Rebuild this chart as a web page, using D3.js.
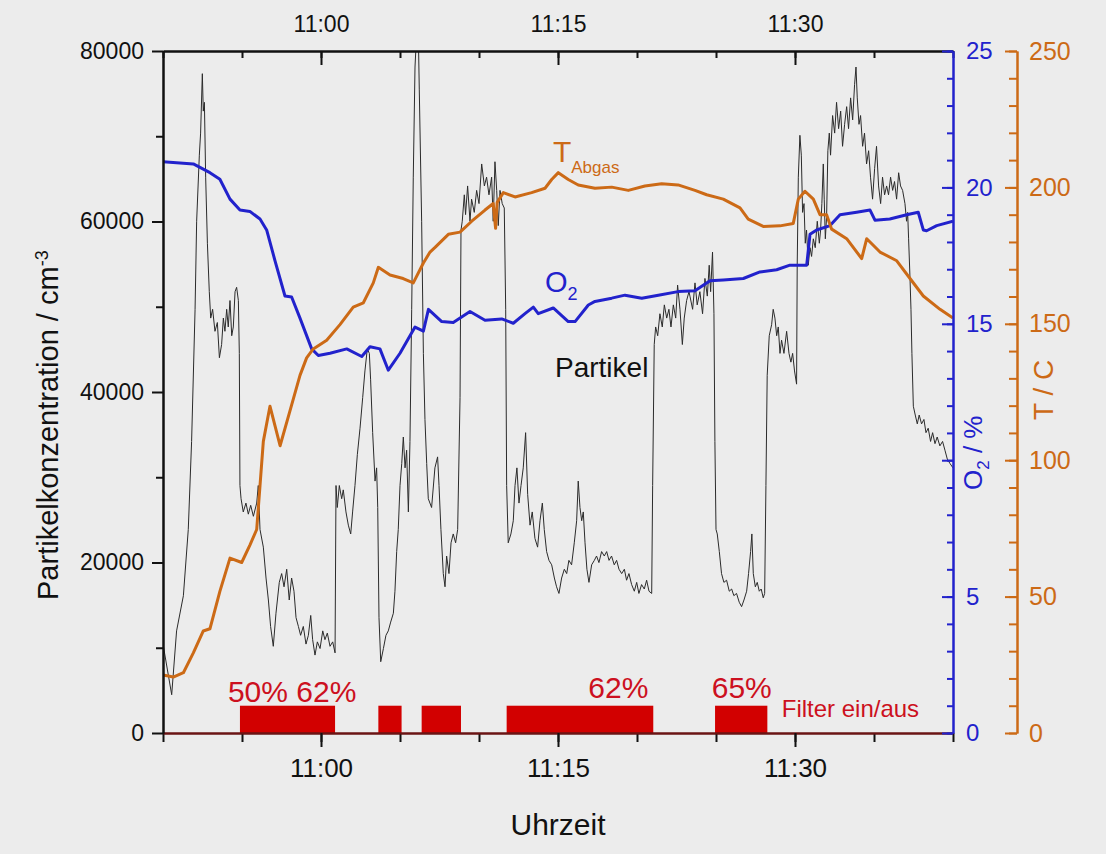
<!DOCTYPE html>
<html>
<head>
<meta charset="utf-8">
<script src="https://cdn.jsdelivr.net/npm/d3@7"></script>
<style>
  body { margin: 0; background: #ececec; }
  svg { display: block; font-family: "Liberation Sans", Arial, sans-serif; }
</style>
</head>
<body>
<div id="chart"></div>
<script>
// minutes after 10:50, value
var partikel = [
  [0,10430],[0.55,4490],[0.86,11980],[1.29,16100],[1.6,23870],[1.81,34200],[2.03,49700],[2.13,60030],
  [2.3,67780],[2.38,70370],[2.49,77340],[2.55,72950],[2.62,73980],[2.7,65200],[2.81,57450],[2.93,51770],
  [3.02,48670],[3.14,49700],[3.29,47120],[3.44,48150],[3.57,44020],[3.71,45570],[3.82,48670],[3.92,47120],
  [4.03,49700],[4.13,47630],[4.24,50730],[4.35,46600],[4.45,47630],[4.56,51770],[4.66,52280],[4.77,50730],
  [4.83,44530],[4.87,29030],[4.94,27480],[5.08,25930],[5.25,26970],[5.4,25670],[5.55,26710],[5.72,25420],
  [5.93,26970],[6.03,29030],[6.14,23870],[6.35,21800],[6.52,18180],[6.67,15600],[6.81,12500],[6.98,10170],
  [7.15,14050],[7.36,17670],[7.51,18700],[7.66,17150],[7.83,19210],[7.99,15600],[8.14,18180],[8.29,16630],
  [8.42,13530],[8.57,12500],[8.71,11460],[8.88,12500],[9.05,10430],[9.2,11460],[9.35,13790],[9.47,10950],
  [9.62,9140],[9.77,10690],[9.94,9910],[10.11,11980],[10.25,10950],[10.4,11720],[10.57,10170],[10.74,10690],
  [10.89,9400],[10.95,29030],[11.03,26450],[11.16,29030],[11.31,27480],[11.41,28520],[11.58,25930],[11.73,24380],
  [11.88,23350],[12,25930],[12.15,29030],[12.3,32650],[12.47,35750],[12.64,39370],[12.78,42470],[12.93,45050],
  [13.06,44530],[13.14,41430],[13.27,35230],[13.42,29550],[13.52,31100],[13.59,26450],[13.67,13530],[13.78,8360],
  [13.95,9910],[14.11,11460],[14.26,11980],[14.41,13010],[14.58,14050],[14.68,16630],[14.79,21280],[14.89,23870],
  [15,29030],[15.11,31610],[15.21,34720],[15.32,31100],[15.42,33170],[15.53,25930],[15.63,34200],[15.74,49700],
  [15.84,65200],[15.95,78120],[16.05,82000],[16.16,82000],[16.22,75530],[16.37,60030],[16.48,44530],[16.58,36780],
  [16.69,31610],[16.79,27480],[17,26450],[17.21,31100],[17.38,32390],[17.47,29030],[17.59,23870],[17.74,18700],
  [17.85,17150],[17.95,20760],[18.1,18700],[18.23,22310],[18.37,23350],[18.52,22310],[18.65,23870],[18.8,39370],
  [18.86,58990],[18.94,60030],[19.07,63130],[19.15,60810],[19.28,64170],[19.43,60030],[19.53,62620],[19.7,61070],
  [19.85,63650],[20,62100],[20.17,66750],[20.34,64170],[20.48,65200],[20.63,63130],[20.8,65200],[20.9,60030],
  [21.01,67010],[21.12,63650],[21.22,59520],[21.33,63650],[21.47,62100],[21.6,61580],[21.69,49700],[21.75,29030],
  [21.85,22310],[22.02,23350],[22.17,24900],[22.28,29030],[22.4,31100],[22.53,26970],[22.66,29030],[22.8,31100],
  [22.95,35230],[23.08,27990],[23.23,24380],[23.37,25930],[23.54,22830],[23.71,21800],[23.86,24900],[24.01,26970],
  [24.13,23870],[24.28,21280],[24.43,20250],[24.6,19730],[24.77,18180],[24.91,17150],[25.06,16370],[25.23,18180],
  [25.4,19210],[25.55,18700],[25.69,20250],[25.86,19730],[26.03,22310],[26.18,24900],[26.28,29550],[26.39,26450],
  [26.5,24900],[26.6,25930],[26.71,22310],[26.83,19210],[26.96,17670],[27.13,19730],[27.3,20250],[27.44,20760],
  [27.59,19990],[27.76,21280],[27.93,20760],[28.08,21280],[28.23,20250],[28.39,20760],[28.56,19730],[28.71,20250],
  [28.86,19210],[29.03,18700],[29.2,19210],[29.34,17920],[29.49,18700],[29.66,17410],[29.83,16630],[29.98,17670],
  [30.12,16370],[30.29,17410],[30.46,16890],[30.61,17920],[30.76,16630],[30.93,16370],[30.99,29030],[31.09,45570],
  [31.18,47630],[31.31,46600],[31.45,49180],[31.6,47630],[31.73,50220],[31.88,48670],[32.02,49700],[32.15,47630],
  [32.3,50220],[32.45,48670],[32.57,52540],[32.72,49700],[32.87,45570],[32.99,48670],[33.14,50730],[33.29,51770],
  [33.35,51250],[33.52,49700],[33.67,52800],[33.81,50220],[33.98,51770],[34.15,49180],[34.3,53320],[34.45,51250],
  [34.57,54870],[34.66,51770],[34.78,56420],[34.87,49180],[34.93,34200],[35,23870],[35.08,23350],[35.21,21280],
  [35.35,18700],[35.5,17670],[35.67,17920],[35.84,16630],[35.99,16890],[36.13,16110],[36.3,16370],[36.47,15340],
  [36.62,14820],[36.77,15600],[36.94,16630],[37.06,18700],[37.19,21280],[37.27,23350],[37.36,18700],[37.49,17150],
  [37.61,17670],[37.74,16630],[37.86,16890],[37.99,15860],[38.08,16370],[38.16,29030],[38.24,41950],[38.37,46600],
  [38.52,47890],[38.62,49700],[38.73,48670],[38.84,46600],[38.94,47630],[39.05,44530],[39.15,46080],[39.3,44530],
  [39.47,47120],[39.62,44530],[39.74,43500],[39.85,44530],[39.97,42470],[40.1,40920],[40.14,54870],[40.21,65200],
  [40.31,70110],[40.4,67780],[40.48,61070],[40.57,62100],[40.65,57450],[40.73,59000],[40.84,54870],[40.95,56930],
  [41.05,55900],[41.16,57970],[41.28,56930],[41.41,60030],[41.54,57450],[41.62,59000],[41.7,62100],[41.79,66750],
  [41.85,62620],[41.92,57970],[42,60550],[42.08,68300],[42.17,70370],[42.25,67780],[42.38,72430],[42.51,70370],
  [42.63,73980],[42.76,70890],[42.89,72950],[43.01,68820],[43.14,71400],[43.27,73470],[43.39,70890],[43.52,74500],
  [43.65,71920],[43.77,76050],[43.86,78120],[43.94,74500],[44.05,71400],[44.15,72430],[44.28,68820],[44.4,70370],
  [44.53,66750],[44.66,68300],[44.78,65200],[44.91,62620],[45.04,66230],[45.16,68820],[45.29,64170],[45.42,62100],
  [45.54,65200],[45.67,63130],[45.8,64170],[45.92,63130],[46.05,65200],[46.18,63650],[46.3,64690],[46.43,62620],
  [46.56,65720],[46.68,64170],[46.81,63650],[46.96,62100],[47.06,60030],[47.13,61070],[47.19,57970],[47.27,53830],
  [47.34,49700],[47.4,44530],[47.49,38330],[47.61,37300],[47.74,36260],[47.86,37300],[48.01,36260],[48.16,36780],
  [48.29,35230],[48.43,35750],[48.58,34200],[48.71,35230],[48.86,33940],[49,34720],[49.17,33680],[49.34,34200],
  [49.49,33170],[49.64,32130],[49.81,31610],[50,31100]
];

var sauerstoff = [
  [0,20.94],[1.92,20.86],[2.97,20.54],[3.6,20.3],[4.24,19.57],[4.87,19.17],[5.5,19.12],[6.14,18.84],
  [6.56,18.44],[7.09,17.31],[7.72,16.02],[8.14,15.98],[8.67,15.21],[9.41,14.08],[9.83,13.84],[10.57,13.92],
  [11.63,14.08],[12.58,13.8],[13.1,14.16],[13.73,14.08],[14.26,13.3],[15,13.92],[15.95,14.88],[16.48,14.73],
  [16.8,15.53],[17.64,15.08],[18.37,15.05],[19.43,15.45],[20.38,15.13],[21.44,15.18],[22.17,15.02],[22.91,15.37],
  [23.44,15.61],[23.75,15.37],[24.7,15.58],[25.65,15.08],[26.08,15.08],[26.92,15.69],[27.34,15.82],[28.4,15.94],
  [29.24,16.05],[30.3,15.94],[31.35,16.05],[32.6,16.18],[33.67,16.21],[34.62,16.58],[35.46,16.61],[36.73,16.66],
  [37.78,16.9],[38.84,16.98],[39.68,17.15],[40.74,17.15],[40.95,18.28],[41.37,18.44],[42.22,18.6],[42.85,19.0],
  [43.9,19.09],[44.75,19.17],[45.06,18.8],[46,18.84],[47.07,19.0],[47.8,19.09],[48.12,18.44],[48.33,18.41],
  [48.97,18.6],[50,18.76]
];

var abgasTemp = [
  [0,21.3],[0.65,20.5],[1.29,22.1],[1.92,29.4],[2.55,37.4],[2.97,38.2],[3.6,51.9],[4.24,64.1],
  [4.98,62.5],[5.5,68.9],[5.93,74.6],[6.14,90.7],[6.35,106.9],[6.77,119.8],[7.41,105.3],[8.04,118.2],
  [8.67,131.1],[9.09,137.5],[9.51,140.8],[10.36,144],[11.2,149.7],[12.04,156.1],[12.68,157.7],[13.31,165],
  [13.63,170.7],[14.37,167.9],[15.2,166.6],[15.84,165],[16.48,172.3],[16.9,176.3],[17.22,178],[18.06,182.8],
  [18.8,183.6],[19.54,187.6],[20.38,191.7],[20.9,194.1],[21.05,185],[21.15,194.5],[21.54,198.1],[22.28,196.5],
  [23.33,198.1],[24.18,199.7],[24.6,202.9],[25.02,205.4],[25.65,202.9],[26.28,200.9],[27.34,199.7],[28.4,200.1],
  [29.45,198.9],[30.5,200.5],[31.56,201.3],[32.6,200.9],[33.67,198.9],[34.41,197.3],[35.46,195.7],[36.52,192.5],
  [37.04,188.4],[37.99,185.7],[39.05,185.9],[39.89,186.8],[40.21,195.7],[40.63,198.6],[41.16,195.7],[41.58,190],
  [42,190],[42.32,184.7],[43.27,181.2],[44.22,173.9],[44.54,181.2],[45.38,176.3],[46.44,173.1],[47.28,166.6],
  [48.12,160.2],[49.18,155.3],[50,152.1]
];

// Filter ein: start / end (minutes after 10:50)
var filterStart = [4.87, 13.63, 16.37, 21.75, 34.94];
var filterEnd   = [10.89, 15.1, 18.86, 31.03, 38.25];
var filterLevel = 3200;

var filterLabels = [
  {text: "50% 62%", t: 4.11, v: 3670},
  {text: "62%", t: 26.92, v: 4100},
  {text: "65%", t: 34.73, v: 4100}
];

var svgWidth = 1106, svgHeight = 854;
var margin = {top: 51, right: 153, bottom: 121, left: 163},
    width  = svgWidth - margin.left - margin.right,
    height = svgHeight - margin.top - margin.bottom;

var blue = "#2222cc", orange = "#cc6a16", red = "#d20000";

var svg = d3.select("#chart").append("svg")
    .attr("width", svgWidth)
    .attr("height", svgHeight);

svg.append("rect").attr("width", svgWidth).attr("height", svgHeight).attr("fill", "#ececec");

var g = svg.append("g").attr("transform", "translate(" + margin.left + "," + margin.top + ")");

var t0 = new Date(2010, 0, 1, 10, 50);
function toDate(m) { return new Date(t0.getTime() + m * 60000); }

var xScale = d3.scaleTime().domain([toDate(0), toDate(50)]).range([0, width]);
var yP = d3.scaleLinear().domain([0, 80000]).range([height, 0]);
var yO = d3.scaleLinear().domain([0, 25]).range([height, 0]);
var yT = d3.scaleLinear().domain([0, 250]).range([height, 0]);

var fmt = d3.timeFormat("%H:%M");
var minorX = xScale.ticks(d3.timeMinute.every(5));
var majorX = xScale.ticks(d3.timeMinute.every(15));

g.append("defs").append("clipPath").attr("id", "clip")
  .append("rect").attr("width", width).attr("height", height);

// filter bars
g.append("g").selectAll("rect")
  .data(filterStart)
  .enter().append("rect")
  .attr("x", function(d) { return xScale(toDate(d)); })
  .attr("width", function(d, i) { return xScale(toDate(filterEnd[i])) - xScale(toDate(d)); })
  .attr("y", yP(filterLevel))
  .attr("height", yP(0) - yP(filterLevel))
  .attr("fill", red);

// lines
var plot = g.append("g").attr("clip-path", "url(#clip)");

plot.append("path")
  .datum(partikel)
  .attr("d", d3.line().x(function(d) { return xScale(toDate(d[0])); }).y(function(d) { return yP(d[1]); }))
  .attr("fill", "none").attr("stroke", "#2b2b2b").attr("stroke-width", 1);

plot.append("path")
  .datum(sauerstoff)
  .attr("d", d3.line().x(function(d) { return xScale(toDate(d[0])); }).y(function(d) { return yO(d[1]); }))
  .attr("fill", "none").attr("stroke", blue).attr("stroke-width", 3).attr("stroke-linejoin", "round");

plot.append("path")
  .datum(abgasTemp)
  .attr("d", d3.line().x(function(d) { return xScale(toDate(d[0])); }).y(function(d) { return yT(d[1]); }))
  .attr("fill", "none").attr("stroke", orange).attr("stroke-width", 3).attr("stroke-linejoin", "round");

// axes
function styleAxis(sel, color, size) {
  sel.selectAll("path").attr("stroke", color).attr("stroke-width", 2);
  sel.selectAll("line").attr("stroke", color).attr("stroke-width", 2);
  sel.selectAll("text").attr("fill", color).style("font-size", size + "px")
     .style("font-family", '"Liberation Sans", Arial, sans-serif');
}

// bottom
var xb1 = g.append("g").attr("transform", "translate(0," + height + ")")
  .call(d3.axisBottom(xScale).tickValues(minorX).tickSize(9).tickSizeOuter(0).tickFormat(""));
styleAxis(xb1, "#111", 26);
var xb2 = g.append("g").attr("transform", "translate(0," + height + ")")
  .call(d3.axisBottom(xScale).tickValues(majorX).tickSize(14).tickPadding(12).tickSizeOuter(0).tickFormat(fmt));
styleAxis(xb2, "#111", 26);
xb1.select(".domain").attr("stroke", "#6b1414");
xb2.select(".domain").attr("stroke", "#6b1414");

// top
var xt1 = g.append("g")
  .call(d3.axisTop(xScale).tickValues(minorX).tickSizeInner(-7).tickSizeOuter(0).tickFormat(""));
styleAxis(xt1, "#111", 23);
var xt2 = g.append("g")
  .call(d3.axisTop(xScale).tickValues(majorX).tickSizeInner(-14).tickPadding(19).tickSizeOuter(0).tickFormat(fmt));
styleAxis(xt2, "#111", 23);

// left
var yl1 = g.append("g")
  .call(d3.axisLeft(yP).tickValues([10000, 30000, 50000, 70000]).tickSize(7).tickSizeOuter(0).tickFormat(""));
styleAxis(yl1, "#111", 23);
var yl2 = g.append("g")
  .call(d3.axisLeft(yP).tickValues([0, 20000, 40000, 60000, 80000]).tickSize(11).tickPadding(8).tickSizeOuter(0).tickFormat(d3.format("d")));
styleAxis(yl2, "#111", 23);

// right O2 (label 10 is left out, the axis title sits there)
var yr1 = g.append("g").attr("transform", "translate(" + width + ",0)")
  .call(d3.axisRight(yO).tickValues(d3.range(0, 26, 1)).tickSizeInner(-6).tickSizeOuter(0).tickFormat(""));
styleAxis(yr1, blue, 24);
var yr2 = g.append("g").attr("transform", "translate(" + width + ",0)")
  .call(d3.axisRight(yO).tickValues([0, 5, 10, 15, 20, 25]).tickSizeInner(-11).tickPadding(13).tickSizeOuter(0)
    .tickFormat(function(d) { return d === 10 ? "" : d; }));
styleAxis(yr2, blue, 24);

// right T
var tAxisX = 854;
var yt1 = g.append("g").attr("transform", "translate(" + tAxisX + ",0)")
  .call(d3.axisRight(yT).tickValues(d3.range(0, 251, 10)).tickSizeInner(-8).tickSizeOuter(0).tickFormat(""));
styleAxis(yt1, orange, 25);
var yt2 = g.append("g").attr("transform", "translate(" + tAxisX + ",0)")
  .call(d3.axisRight(yT).tickValues([0, 50, 100, 150, 200, 250]).tickSizeInner(-12).tickPadding(12).tickSizeOuter(0));
styleAxis(yt2, orange, 25);

// axis titles
var yTitle = svg.append("text")
  .attr("transform", "translate(58,600) rotate(-90)")
  .attr("fill", "#111").style("font-size", "29px");
yTitle.append("tspan").text("Partikelkonzentration / cm");
yTitle.append("tspan").attr("dy", "-0.55em").style("font-size", "18px").text("-3");

svg.append("text")
  .attr("x", margin.left + xScale(toDate(25))).attr("y", 835)
  .attr("text-anchor", "middle").attr("fill", "#111").style("font-size", "30px")
  .text("Uhrzeit");

var oTitle = svg.append("text")
  .attr("transform", "translate(982,490) rotate(-90)")
  .attr("fill", blue).style("font-size", "26px");
oTitle.append("tspan").text("O");
oTitle.append("tspan").attr("dy", 7).style("font-size", "17px").text("2");
oTitle.append("tspan").attr("dy", -7).text(" / %");

svg.append("text")
  .attr("transform", "translate(1053,420) rotate(-90)")
  .attr("fill", orange).style("font-size", "28px")
  .text("T / C");

// series labels
g.append("text")
  .attr("x", xScale(toDate(24.81))).attr("y", yP(41760))
  .attr("fill", "#111").style("font-size", "28px")
  .text("Partikel");

var oLab = g.append("text")
  .attr("x", xScale(toDate(24.18))).attr("y", yO(16.17))
  .attr("fill", blue).style("font-size", "29px");
oLab.append("tspan").text("O");
oLab.append("tspan").attr("dy", 8).style("font-size", "18px").text("2");

var tLab = g.append("text")
  .attr("x", xScale(toDate(24.68))).attr("y", yT(209.3))
  .attr("fill", orange).style("font-size", "30px");
tLab.append("tspan").text("T");
tLab.append("tspan").attr("dy", 11).style("font-size", "17px").text("Abgas");

// filter labels
g.selectAll(".flab")
  .data(filterLabels)
  .enter().append("text")
  .attr("class", "flab")
  .attr("x", function(d) { return xScale(toDate(d.t)); })
  .attr("y", function(d) { return yP(d.v); })
  .attr("fill", "#cc1020").style("font-size", "30px")
  .text(function(d) { return d.text; });

g.append("text")
  .attr("x", xScale(toDate(39.16))).attr("y", yP(1910))
  .attr("fill", "#cc1020").style("font-size", "24px")
  .text("Filter ein/aus");
</script>
</body>
</html>
